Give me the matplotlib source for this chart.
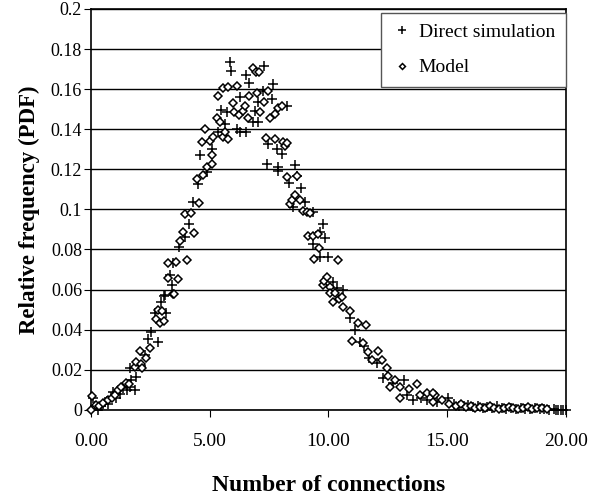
import numpy as np
import matplotlib.pyplot as plt

# Direct simulation (+)
sim_x = [0.08, 0.15, 0.3, 0.4, 0.5, 0.6, 0.7, 0.84, 0.93, 1.05, 1.2, 1.35, 1.5, 1.64, 1.68,
         1.85, 1.64, 1.89, 2.1, 2.27, 2.4, 2.53, 2.69, 2.82, 2.95, 3.07, 3.12, 3.16, 3.33,
         3.41, 3.45, 3.71, 3.96, 4.13, 4.29, 4.5, 4.59, 4.88, 5.09, 5.35, 5.47, 5.56, 5.64,
         5.72, 5.85, 5.9, 6.15, 6.27, 6.27, 6.53, 6.53, 6.65, 6.82, 6.9, 7.03, 7.03, 7.24,
         7.28, 7.41, 7.45, 7.62, 7.66, 7.83, 7.87, 7.87, 8.04, 8.25, 8.34, 8.5, 8.59, 8.67,
         8.84, 9.01, 9.35, 9.35, 9.64, 9.64, 9.77, 9.85, 9.98, 10.19, 10.36, 10.61, 10.9,
         11.12, 11.33, 11.5, 11.71, 12.04, 12.29, 12.72, 13.18, 13.31, 13.56, 13.9, 14.15,
         14.6, 15.03, 15.3, 15.5, 15.7, 15.9, 16.1, 16.3, 16.5, 16.7, 16.9, 17.1, 17.3, 17.5,
         17.7, 17.9, 18.1, 18.3, 18.5, 18.7, 18.9, 19.1, 19.3, 19.5, 19.6, 19.7, 19.8, 19.9, 20.0]
sim_y = [0.006, 0.002, 0.0, 0.002, 0.003, 0.004, 0.003, 0.0065, 0.009, 0.006, 0.008, 0.011,
         0.01, 0.0115, 0.015, 0.01, 0.021, 0.0165, 0.022, 0.0275, 0.0355, 0.039, 0.0485, 0.034,
         0.054, 0.057, 0.0575, 0.0485, 0.0675, 0.0625, 0.0735, 0.081, 0.086, 0.0925, 0.1035,
         0.1125, 0.127, 0.1185, 0.13, 0.1385, 0.1495, 0.1365, 0.1425, 0.1485, 0.1735, 0.169,
         0.14, 0.156, 0.1385, 0.167, 0.1385, 0.163, 0.1435, 0.149, 0.1535, 0.1435, 0.159,
         0.1715, 0.1225, 0.1325, 0.155, 0.1625, 0.13, 0.121, 0.119, 0.1275, 0.1515, 0.113,
         0.101, 0.122, 0.1165, 0.1105, 0.1035, 0.0985, 0.0825, 0.0885, 0.0765, 0.0925, 0.0855,
         0.0765, 0.064, 0.061, 0.06, 0.046, 0.04, 0.034, 0.032, 0.026, 0.0235, 0.016, 0.0135,
         0.015, 0.0075, 0.005, 0.006, 0.005, 0.004, 0.006, 0.003, 0.002, 0.002, 0.0025, 0.0015,
         0.002, 0.001, 0.0015, 0.001, 0.002, 0.001, 0.0005, 0.001, 0.0005, 0.001, 0.0005,
         0.0005, 0.001, 0.0005, 0.0005, 0.0, 0.0005, 0.0, 0.0, 0.0, 0.0, 0.0]

# Model (diamonds)
mod_x = [0.0, 0.05, 0.21, 0.35, 0.51, 0.72, 0.9, 1.01, 1.14, 1.26, 1.47, 1.6, 1.85, 1.89,
         2.06, 2.11, 2.15, 2.32, 2.5, 2.74, 2.82, 2.91, 2.99, 3.07, 3.24, 3.24, 3.45, 3.49,
         3.58, 3.66, 3.75, 3.87, 3.96, 4.04, 4.21, 4.34, 4.46, 4.55, 4.67, 4.72, 4.8, 4.88,
         5.01, 5.09, 5.09, 5.14, 5.31, 5.35, 5.43, 5.56, 5.56, 5.64, 5.77, 5.77, 5.98, 6.02,
         6.15, 6.23, 6.4, 6.48, 6.61, 6.65, 6.82, 6.95, 6.99, 7.07, 7.12, 7.28, 7.37, 7.45,
         7.54, 7.75, 7.75, 7.87, 8.04, 8.08, 8.17, 8.25, 8.25, 8.38, 8.46, 8.59, 8.67, 8.8,
         8.93, 9.09, 9.14, 9.22, 9.35, 9.39, 9.56, 9.6, 9.77, 9.81, 9.94, 10.06, 10.06, 10.19,
         10.27, 10.4, 10.44, 10.57, 10.61, 10.9, 10.99, 11.24, 11.45, 11.58, 11.66, 11.83,
         12.08, 12.25, 12.46, 12.5, 12.59, 12.8, 13.01, 13.01, 13.39, 13.73, 13.85, 14.15,
         14.4, 14.48, 14.4, 14.8, 15.1, 15.4, 15.6, 15.8, 16.0, 16.2, 16.4, 16.6, 16.8, 17.0,
         17.2, 17.4, 17.6, 17.8, 18.0, 18.2, 18.4, 18.6, 18.8, 19.0, 19.2]
mod_y = [0.0, 0.007, 0.0025, 0.002, 0.0035, 0.005, 0.006, 0.0075, 0.01, 0.0115, 0.0135,
         0.013, 0.0215, 0.024, 0.0295, 0.023, 0.021, 0.026, 0.031, 0.0455, 0.05, 0.0435,
         0.0495, 0.0445, 0.0735, 0.066, 0.058, 0.058, 0.074, 0.0655, 0.084, 0.0885, 0.0975,
         0.075, 0.098, 0.088, 0.115, 0.103, 0.1335, 0.117, 0.14, 0.121, 0.134, 0.127, 0.1225,
         0.136, 0.1455, 0.1565, 0.1435, 0.1605, 0.136, 0.1385, 0.161, 0.135, 0.153, 0.1485,
         0.1615, 0.147, 0.149, 0.1515, 0.1455, 0.1565, 0.1705, 0.1685, 0.158, 0.1685, 0.1485,
         0.1535, 0.1355, 0.159, 0.1455, 0.1475, 0.135, 0.1505, 0.1515, 0.1335, 0.1315, 0.133,
         0.116, 0.1025, 0.1045, 0.107, 0.1165, 0.1045, 0.099, 0.0985, 0.0865, 0.098, 0.0865,
         0.0755, 0.0875, 0.0805, 0.0625, 0.0645, 0.0665, 0.0615, 0.0585, 0.054, 0.0585, 0.075,
         0.0555, 0.0565, 0.0515, 0.0495, 0.0345, 0.0435, 0.0335, 0.0425, 0.029, 0.025, 0.0295,
         0.025, 0.021, 0.017, 0.0115, 0.015, 0.0115, 0.006, 0.0105, 0.013, 0.0075, 0.0085,
         0.004, 0.0075, 0.0085, 0.005, 0.003, 0.002, 0.003, 0.0015, 0.002, 0.001, 0.0015,
         0.001, 0.002, 0.001, 0.0005, 0.001, 0.0015, 0.001, 0.0005, 0.001, 0.0015, 0.0005,
         0.001, 0.001, 0.0005]

plt.rcParams['font.family'] = ['Liberation Serif', 'DejaVu Serif']

fig = plt.figure(figsize=(6.03, 4.98), dpi=100)
ax = fig.add_axes([0.151, 0.177, 0.787, 0.805])

ax.plot(sim_x, sim_y, linestyle='none', marker='+', markersize=7, markeredgewidth=1.1,
        color='black', label='Direct simulation', clip_on=False, zorder=3)
ax.plot(mod_x, mod_y, linestyle='none', marker='D', markersize=4, markeredgewidth=1.1,
        markerfacecolor='white', markeredgecolor='black', label='Model', clip_on=False, zorder=3)

ax.set_xlim(0, 20)
ax.set_ylim(0, 0.2)
ax.set_xticks([0, 5, 10, 15, 20])
ax.set_xticklabels(['0.00', '5.00', '10.00', '15.00', '20.00'], fontsize=14)
yt = np.arange(0, 0.201, 0.02)
ax.set_yticks(yt)
ax.set_yticklabels(['0'] + ['%g' % v for v in yt[1:]], fontsize=13)
ax.yaxis.grid(True, color='black', linewidth=1)
ax.set_axisbelow(True)
ax.tick_params(axis='x', direction='out', length=5, pad=12)
ax.tick_params(axis='y', direction='out', length=5, pad=1.5)
for s in ax.spines.values():
    s.set_linewidth(1.2)

ax.set_xlabel('Number of connections', fontsize=17, fontweight='bold', labelpad=18)
ax.set_ylabel('Relative frequency (PDF)', fontsize=16.5, fontweight='bold', labelpad=8)

leg = ax.legend(loc='upper right', bbox_to_anchor=(1.0, 0.99), fontsize=14, frameon=True,
                fancybox=False, borderaxespad=0, borderpad=0.55, labelspacing=0.9,
                handletextpad=0.3, handlelength=1.1, markerscale=0.75)
leg.get_frame().set_edgecolor('#555555')
leg.get_frame().set_linewidth(1.0)
leg.get_frame().set_alpha(1)

fig.savefig('out.png', dpi=100)
